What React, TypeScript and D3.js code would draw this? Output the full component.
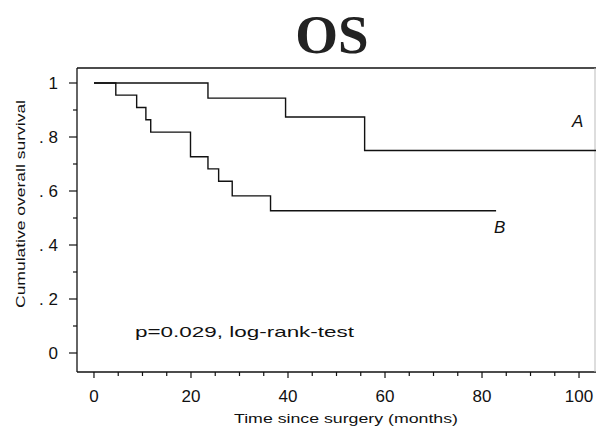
import React, { useRef, useEffect } from 'react';
import * as d3 from 'd3';

// survival curves (months, cumulative survival)
const groupATimes = [0, 23.5, 39.5, 55.8];
const groupASurv = [1, 0.944, 0.874, 0.75];
const groupAEnd = 103.5;

const groupBTimes = [0, 4.5, 8.8, 10.7, 11.7, 19.9, 23.5, 25.7, 28.5, 36.4];
const groupBSurv = [1, 0.955, 0.909, 0.864, 0.818, 0.727, 0.682, 0.636, 0.582, 0.527];
const groupBEnd = 82.9;

const xTicks = [0, 20, 40, 60, 80, 100];
const yTicks = [0, 0.2, 0.4, 0.6, 0.8, 1];
const yTickLabels = ['0', '. 2', '. 4', '. 6', '. 8', '1'];

const App = () => {
  const ref = useRef<SVGSVGElement>(null);

  useEffect(() => {
    const svg = d3.select(ref.current);
    svg.selectAll('*').remove();

    const x = d3.scaleLinear().domain([-3.5, 103.5]).range([77, 596]);
    const y = d3.scaleLinear().domain([0, 1]).range([353, 83]);
    const axisY = 372;
    const topY = 68;
    const ink = '#111';

    // title
    svg.append('text')
      .attr('x', 332).attr('y', 53)
      .attr('text-anchor', 'middle')
      .style('font-family', '"Liberation Serif", "DejaVu Serif", serif')
      .style('font-weight', 'bold')
      .style('font-size', '55px')
      .attr('fill', '#222')
      .text('OS');

    // frame
    svg.append('line').attr('x1', 77).attr('x2', 77).attr('y1', topY).attr('y2', axisY)
      .attr('stroke', ink).attr('stroke-width', 1.3);
    svg.append('line').attr('x1', 77).attr('x2', 596).attr('y1', topY).attr('y2', topY)
      .attr('stroke', ink).attr('stroke-width', 1.3);
    svg.append('line').attr('x1', 77).attr('x2', 596).attr('y1', axisY).attr('y2', axisY)
      .attr('stroke', ink).attr('stroke-width', 1.5);
    svg.append('line').attr('x1', 595).attr('x2', 595).attr('y1', topY).attr('y2', axisY)
      .attr('stroke', '#bbb').attr('stroke-width', 1);

    // x ticks
    const minorX = d3.range(0, 101, 5);
    svg.append('g').selectAll('line').data(minorX).enter().append('line')
      .attr('x1', d => x(d)).attr('x2', d => x(d))
      .attr('y1', axisY).attr('y2', d => axisY + (d % 20 === 0 ? 6 : 4))
      .attr('stroke', ink).attr('stroke-width', 1.2);
    svg.append('g').selectAll('text').data(xTicks).enter().append('text')
      .attr('x', d => x(d)).attr('y', 402)
      .attr('text-anchor', 'middle')
      .style('font-family', '"Liberation Sans", Arial, sans-serif')
      .style('font-size', '17px')
      .attr('fill', ink)
      .text(d => String(d));

    // y ticks
    const minorY = d3.range(0, 11).map(i => i / 10);
    svg.append('g').selectAll('line').data(minorY).enter().append('line')
      .attr('x1', (d, i) => (i % 2 === 0 ? 69 : 73)).attr('x2', 77)
      .attr('y1', d => y(d)).attr('y2', d => y(d))
      .attr('stroke', ink).attr('stroke-width', 1.2);
    svg.append('g').selectAll('text').data(yTicks).enter().append('text')
      .attr('x', 58).attr('y', d => y(d) + 6)
      .attr('text-anchor', 'end')
      .style('font-family', '"Liberation Sans", Arial, sans-serif')
      .style('font-size', '17px')
      .attr('fill', ink)
      .text((d, i) => yTickLabels[i]);

    // axis titles
    svg.append('text')
      .attr('x', 346).attr('y', 423)
      .attr('text-anchor', 'middle')
      .attr('textLength', 224).attr('lengthAdjust', 'spacingAndGlyphs')
      .style('font-family', '"Liberation Sans", Arial, sans-serif')
      .style('font-size', '13.5px')
      .attr('fill', ink)
      .text('Time since surgery (months)');
    svg.append('text')
      .attr('transform', 'translate(25,204) rotate(-90)')
      .attr('text-anchor', 'middle')
      .attr('textLength', 208).attr('lengthAdjust', 'spacingAndGlyphs')
      .style('font-family', '"Liberation Sans", Arial, sans-serif')
      .style('font-size', '13.5px')
      .attr('fill', ink)
      .text('Cumulative overall survival');

    // step curves
    const line = d3.line<[number, number]>()
      .x(d => x(d[0])).y(d => y(d[1]))
      .curve(d3.curveStepAfter);
    const ptsA: [number, number][] = groupATimes.map((t, i) => [t, groupASurv[i]]);
    ptsA.push([groupAEnd, groupASurv[groupASurv.length - 1]]);
    const ptsB: [number, number][] = groupBTimes.map((t, i) => [t, groupBSurv[i]]);
    ptsB.push([groupBEnd, groupBSurv[groupBSurv.length - 1]]);
    [ptsA, ptsB].forEach(p => {
      svg.append('path').attr('d', line(p))
        .attr('fill', 'none').attr('stroke', ink).attr('stroke-width', 1.4);
    });

    // curve labels
    svg.append('text').attr('x', 572).attr('y', 127)
      .style('font-family', '"Liberation Sans", Arial, sans-serif')
      .style('font-style', 'italic').style('font-size', '17px')
      .attr('fill', ink).text('A');
    svg.append('text').attr('x', 494).attr('y', 233)
      .style('font-family', '"Liberation Sans", Arial, sans-serif')
      .style('font-style', 'italic').style('font-size', '17px')
      .attr('fill', ink).text('B');

    // test annotation
    svg.append('text').attr('x', 135).attr('y', 337)
      .attr('textLength', 219).attr('lengthAdjust', 'spacingAndGlyphs')
      .style('font-family', '"Liberation Sans", Arial, sans-serif')
      .style('font-size', '15px')
      .attr('fill', ink)
      .text('p=0.029, log-rank-test');
  }, []);

  return (
    <svg ref={ref} width={596} height={430}
      style={{ position: 'absolute', left: 0, top: 0, background: '#fff' }} />
  );
};

export default App;
